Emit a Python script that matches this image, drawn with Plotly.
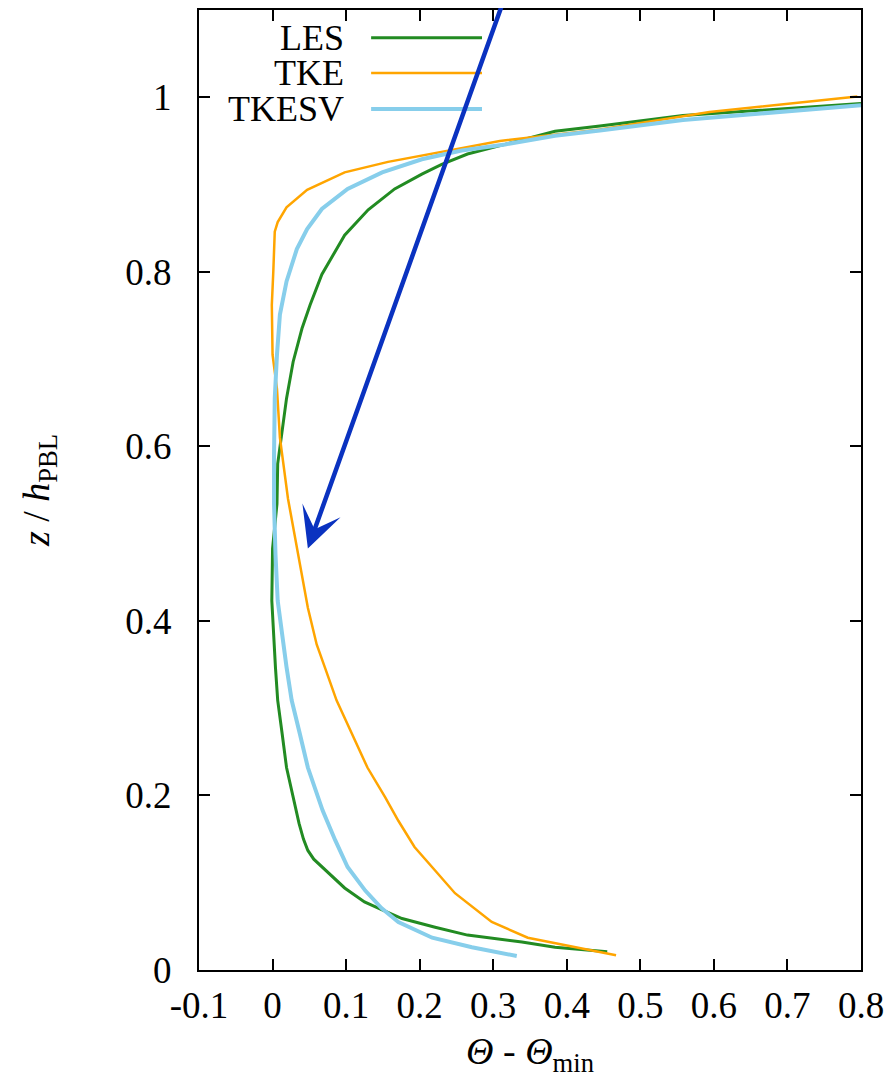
import plotly.graph_objects as go

# ---- data ----
les_z = [0.021, 0.026, 0.032, 0.040, 0.049, 0.059, 0.069, 0.078, 0.094, 0.117, 0.127, 0.137,
         0.150, 0.168, 0.197, 0.232, 0.271, 0.309, 0.346, 0.385, 0.423, 0.483, 0.534, 0.580,
         0.617, 0.655, 0.697, 0.735, 0.762, 0.797, 0.842, 0.871, 0.895, 0.912, 0.923, 0.935,
         0.946, 0.961, 0.967, 0.979, 0.993]
les_t = [0.455, 0.384, 0.339, 0.265, 0.221, 0.176, 0.149, 0.125, 0.098, 0.068, 0.056, 0.048,
         0.042, 0.036, 0.028, 0.019, 0.013, 0.007, 0.004, 0.001, -0.001, 0.000, 0.006, 0.007,
         0.013, 0.019, 0.028, 0.040, 0.051, 0.067, 0.098, 0.130, 0.166, 0.203, 0.230, 0.265,
         0.316, 0.384, 0.445, 0.558, 0.800]

tke_z = [0.017, 0.027, 0.037, 0.055, 0.088, 0.114, 0.141, 0.171, 0.198, 0.232, 0.271, 0.309,
         0.347, 0.373, 0.415, 0.476, 0.540, 0.610, 0.666, 0.705, 0.762, 0.800, 0.846, 0.857,
         0.874, 0.894, 0.914, 0.926, 0.939, 0.950, 0.963, 0.983, 1.001]
tke_t = [0.467, 0.405, 0.347, 0.298, 0.248, 0.221, 0.193, 0.171, 0.153, 0.129, 0.108, 0.087,
         0.071, 0.060, 0.048, 0.035, 0.021, 0.010, 0.006, 0.000, -0.001, 0.001, 0.003, 0.007,
         0.019, 0.047, 0.098, 0.157, 0.238, 0.309, 0.445, 0.594, 0.795]

tkesv_z = [0.016, 0.026, 0.037, 0.055, 0.071, 0.091, 0.118, 0.149, 0.183, 0.232, 0.271, 0.309,
           0.347, 0.385, 0.423, 0.476, 0.534, 0.590, 0.655, 0.705, 0.751, 0.789, 0.826, 0.849,
           0.872, 0.895, 0.914, 0.929, 0.939, 0.946, 0.956, 0.962, 0.974, 0.991]
tkesv_t = [0.332, 0.271, 0.217, 0.171, 0.148, 0.126, 0.102, 0.085, 0.068, 0.048, 0.037, 0.026,
           0.019, 0.013, 0.007, 0.004, 0.002, 0.002, 0.003, 0.006, 0.010, 0.019, 0.033, 0.047,
           0.067, 0.102, 0.149, 0.203, 0.257, 0.316, 0.384, 0.445, 0.558, 0.800]

x_ticks = [-0.1, 0, 0.1, 0.2, 0.3, 0.4, 0.5, 0.6, 0.7, 0.8]
x_labels = ["-0.1", "0", "0.1", "0.2", "0.3", "0.4", "0.5", "0.6", "0.7", "0.8"]
y_ticks = [0, 0.2, 0.4, 0.6, 0.8, 1.0]
y_labels = ["0", "0.2", "0.4", "0.6", "0.8", "1"]

series_names = ["LES", "TKE", "TKESV"]
series_colors = ["#228B22", "#FFA500", "#87CEEB"]
series_widths = [3, 2.5, 4]

# arrow (head and tail, data units)
arrow_head = (0.048, 0.483)
arrow_tail = (0.318, 1.12)

FONT = "Liberation Serif"

fig = go.Figure()
for name, t, z, c, w in zip(series_names, [les_t, tke_t, tkesv_t], [les_z, tke_z, tkesv_z],
                            series_colors, series_widths):
    fig.add_trace(go.Scatter(x=t, y=z, mode="lines", name=name,
                             line=dict(color=c, width=w), showlegend=False))

# manual legend (text left of the line sample)
leg_y = [0.971, 0.9345, 0.897]
for name, c, w, yy in zip(series_names, series_colors, series_widths, leg_y):
    fig.add_annotation(x=0.2205, y=yy, xref="paper", yref="paper", text=name,
                       showarrow=False, xanchor="right", yanchor="middle",
                       borderpad=0, height=33, valign="middle",
                       font=dict(family=FONT, size=36, color="black"))
    fig.add_shape(type="line", xref="paper", yref="paper", x0=0.26, x1=0.4275,
                  y0=yy, y1=yy, line=dict(color=c, width=w))

fig.add_annotation(x=arrow_head[0], y=arrow_head[1], ax=arrow_tail[0], ay=arrow_tail[1],
                   xref="x", yref="y", axref="x", ayref="y", text="",
                   showarrow=True, arrowhead=3, arrowsize=1.5, arrowwidth=4.5,
                   arrowcolor="#0A32C0", standoff=0)

axis_common = dict(showline=True, linecolor="black", linewidth=2, mirror="ticks",
                   ticks="inside", ticklen=11, tickwidth=2, tickcolor="black",
                   showgrid=False, zeroline=False,
                   tickfont=dict(family=FONT, size=37, color="black"))

fig.update_xaxes(range=[-0.1, 0.8], tickvals=x_ticks, ticktext=x_labels,
                 ticklabelstandoff=2,
                 title=dict(text="<i>Θ</i> - <i>Θ</i><sub>min</sub>",
                            font=dict(family=FONT, size=38, color="black"), standoff=22),
                 **axis_common)
fig.update_yaxes(range=[0, 1.1], tickvals=y_ticks, ticktext=y_labels,
                 ticklabelstandoff=18,
                 title=dict(text="<i>z</i> / <i>h</i><sub>PBL</sub>",
                            font=dict(family=FONT, size=38, color="black"), standoff=64),
                 **axis_common)

fig.update_layout(width=888, height=1070,
                  margin=dict(l=191, r=35, t=0, b=108),
                  paper_bgcolor="white", plot_bgcolor="white",
                  showlegend=False)

fig.write_html("out.html")
